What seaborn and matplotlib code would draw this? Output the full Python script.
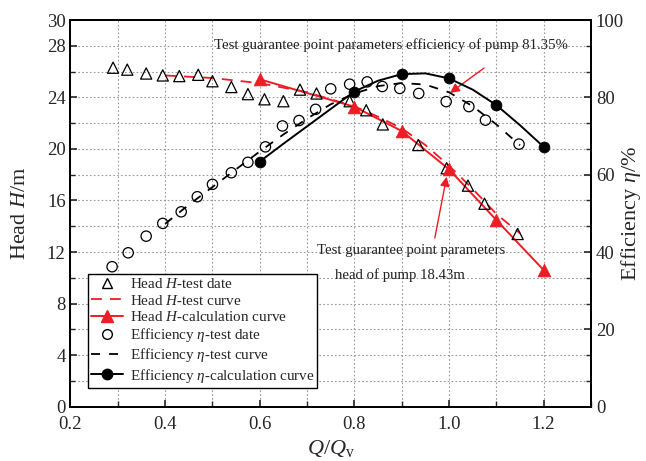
import matplotlib
matplotlib.use("Agg")
import matplotlib.pyplot as plt
from matplotlib.lines import Line2D
from matplotlib.ticker import MultipleLocator
import seaborn as sns

# head H - test data (Q/Qv, m)
q_head_test = [0.29, 0.32, 0.36, 0.395, 0.43, 0.47, 0.50, 0.54, 0.575, 0.61, 0.65,
               0.685, 0.72, 0.79, 0.825, 0.86, 0.935, 0.995, 1.04, 1.075, 1.145]
h_head_test = [26.3, 26.15, 25.85, 25.7, 25.65, 25.75, 25.25, 24.8, 24.25, 23.85, 23.7,
               24.6, 24.3, 23.7, 23.0, 21.9, 20.3, 18.5, 17.15, 15.75, 13.4]

# head H - test curve
q_head_curve = [0.4, 0.5, 0.6, 0.7, 0.8, 0.85, 0.9, 0.95, 1.0, 1.05, 1.1, 1.15]
h_head_curve = [25.7, 25.5, 25.1, 24.4, 23.3, 22.5, 21.6, 20.3, 18.7, 16.9, 14.95, 13.45]

# head H - calculation curve
q_head_calc = [0.6, 0.8, 0.9, 1.0, 1.1, 1.2]
h_head_calc = [25.4, 23.27, 21.39, 18.42, 14.48, 10.6]

# efficiency eta - test data (%)
q_eff_test = [0.288, 0.322, 0.36, 0.395, 0.434, 0.468, 0.50, 0.54, 0.575, 0.612, 0.648,
              0.683, 0.718, 0.75, 0.79, 0.827, 0.859, 0.896, 0.936, 0.994, 1.042, 1.077, 1.148]
e_eff_test = [36.2, 39.8, 44.1, 47.4, 50.4, 54.3, 57.5, 60.5, 63.2, 67.2, 72.6,
              74.0, 76.9, 82.2, 83.4, 84.0, 82.8, 82.3, 81.0, 78.9, 77.6, 74.1, 67.9]

# efficiency eta - test curve
q_eff_curve = [0.4, 0.45, 0.5, 0.55, 0.6, 0.65, 0.7, 0.75, 0.8, 0.85, 0.9, 0.95,
               1.0, 1.05, 1.1, 1.15]
e_eff_curve = [47.3, 52.2, 56.8, 61.4, 66.0, 70.4, 74.5, 78.2, 81.0, 82.9, 83.7, 83.3,
               81.3, 77.7, 73.0, 67.6]

# efficiency eta - calculation curve
q_eff_calc = [0.6, 0.8, 0.9, 1.0, 1.1, 1.2]
e_eff_calc = [63.4, 81.5, 86.0, 84.9, 78.0, 67.2]
q_eff_calc_line = [0.6, 0.65, 0.7, 0.75, 0.8, 0.85, 0.9, 0.95, 1.0, 1.05, 1.1, 1.15, 1.2]
e_eff_calc_line = [63.4, 68.0, 72.5, 77.0, 81.5, 84.3, 86.0, 86.2, 84.9, 82.0, 78.0, 72.8, 67.2]

sns.set_theme(style="ticks")
plt.rcParams["font.family"] = ["Liberation Serif", "DejaVu Serif"]
plt.rcParams["mathtext.fontset"] = "custom"
plt.rcParams["mathtext.rm"] = "Liberation Serif"
plt.rcParams["mathtext.it"] = "Liberation Serif:italic"

RED = "#ee1c24"
RED_DASH = (0, (6, 4.5))
BLACK_DASH = (0, (5, 5))

fig = plt.figure(figsize=(6.46, 4.61), dpi=100)
ax = fig.add_axes([0.1091, 0.1178, 0.8057, 0.8388])
ax2 = ax.twinx()

# head series (left axis)
sns.lineplot(x=q_head_curve, y=h_head_curve, ax=ax, color=RED, lw=1.3,
             linestyle=RED_DASH, estimator=None, sort=False)
sns.lineplot(x=q_head_calc, y=h_head_calc, ax=ax, color=RED, lw=1.4,
             estimator=None, sort=False)
sns.scatterplot(x=q_head_calc, y=h_head_calc, ax=ax, color=RED, marker="^",
                s=85, edgecolor=RED, linewidth=0.5, zorder=5)
sns.scatterplot(x=q_head_test, y=h_head_test, ax=ax, marker="^", s=65,
                facecolor="none", edgecolor="black", linewidth=0.9, zorder=4)

# efficiency series (right axis)
sns.lineplot(x=q_eff_curve, y=e_eff_curve, ax=ax2, color="black", lw=1.3,
             linestyle=BLACK_DASH, estimator=None, sort=False)
sns.lineplot(x=q_eff_calc_line, y=e_eff_calc_line, ax=ax2, color="black", lw=1.4,
             estimator=None, sort=False)
sns.scatterplot(x=q_eff_calc, y=e_eff_calc, ax=ax2, color="black", marker="o",
                s=60, edgecolor="black", zorder=5)
sns.scatterplot(x=q_eff_test, y=e_eff_test, ax=ax2, marker="o", s=55,
                facecolor="none", edgecolor="black", linewidth=0.9, zorder=4)

ax.set_xlim(0.2, 1.3)
ax.set_ylim(0, 30)
ax2.set_ylim(0, 100)

ax.set_xticks([0.2, 0.4, 0.6, 0.8, 1.0, 1.2])
ax.set_xticklabels(["0.2", "0.4", "0.6", "0.8", "1.0", "1.2"])
ax.xaxis.set_minor_locator(MultipleLocator(0.1))
ax.set_yticks([0, 4, 8, 12, 16, 20, 24, 28, 30])
ax.yaxis.set_minor_locator(MultipleLocator(2))
ax2.set_yticks([0, 20, 40, 60, 80, 100])
ax2.set_yticks([v * 100 / 30 for v in range(2, 30, 2)], minor=True)

ax.grid(True, which="both", color="#9a9a9a", linestyle=(0, (1.5, 2)), lw=0.8)
ax.set_axisbelow(True)
ax.tick_params(which="major", direction="in", length=5, width=1.2, labelsize=13.5,
               top=False, right=False)
ax.tick_params(which="minor", direction="in", length=3.5, width=1.0,
               top=False, right=False)
ax.tick_params(axis="x", which="major", pad=7)
ax.tick_params(axis="x", which="minor", length=4)
ax2.tick_params(which="major", direction="in", length=5, width=1.2, labelsize=13.5)
ax2.tick_params(which="minor", direction="in", length=3.5, width=1.0)
for a in (ax, ax2):
    for s in a.spines.values():
        s.set_linewidth(1.3)
        s.set_color("black")

ax.set_xlabel(r"$Q$/$Q_{\rm v}$", fontsize=16, labelpad=3)
ax.set_ylabel(r"Head $H$/m", fontsize=16)
ax2.set_ylabel(r"Efficiency $\eta$/%", fontsize=16)
ax.yaxis.set_label_coords(-0.077, 0.5)
ax2.yaxis.set_label_coords(1.054, 0.5)

# annotations
ax.text(0.877, 28.06, "Test guarantee point parameters efficiency of pump 81.35%",
        fontsize=10.6, ha="center", va="center", color="#222222")
ax.annotate("", xy=(1.002, 24.34), xytext=(1.074, 26.27),
            arrowprops=dict(arrowstyle="-|>", color=RED, lw=1.0,
                            mutation_scale=14, shrinkA=0, shrinkB=0))
ax.text(0.9206, 12.1, "Test guarantee point parameters", fontsize=10.6,
        ha="center", va="center", color="#222222")
ax.text(0.8963, 10.22, "head of pump 18.43m", fontsize=10.6,
        ha="center", va="center", color="#222222")
ax.annotate("", xy=(0.995, 17.84), xytext=(0.970, 13.09),
            arrowprops=dict(arrowstyle="-|>", color=RED, lw=1.0,
                            mutation_scale=14, shrinkA=0, shrinkB=0))

handles = [
    Line2D([], [], ls="none", marker="^", mfc="none", mec="black", ms=7),
    Line2D([], [], color=RED, ls=RED_DASH, lw=1.3),
    Line2D([], [], color=RED, lw=1.4, marker="^", ms=9),
    Line2D([], [], ls="none", marker="o", mfc="none", mec="black", ms=7),
    Line2D([], [], color="black", ls=BLACK_DASH, lw=1.3),
    Line2D([], [], color="black", lw=1.4, marker="o", ms=7.5),
]
labels = [r"Head $H$-test date", r"Head $H$-test curve", r"Head $H$-calculation curve",
          r"Efficiency $\eta$-test date", r"Efficiency $\eta$-test curve",
          r"Efficiency $\eta$-calculation curve"]
for a in (ax, ax2):
    lg = a.get_legend()
    if lg is not None:
        lg.remove()
leg = ax2.legend(handles, labels, loc="lower left", bbox_to_anchor=(0.034, 0.049),
                 borderaxespad=0, fontsize=10.9, frameon=True, fancybox=False,
                 edgecolor="black", framealpha=1, handlelength=2.1,
                 handletextpad=0.45, labelspacing=0.15, borderpad=0.2)
leg.get_frame().set_linewidth(1.0)

fig.savefig("out.png", dpi=100)
